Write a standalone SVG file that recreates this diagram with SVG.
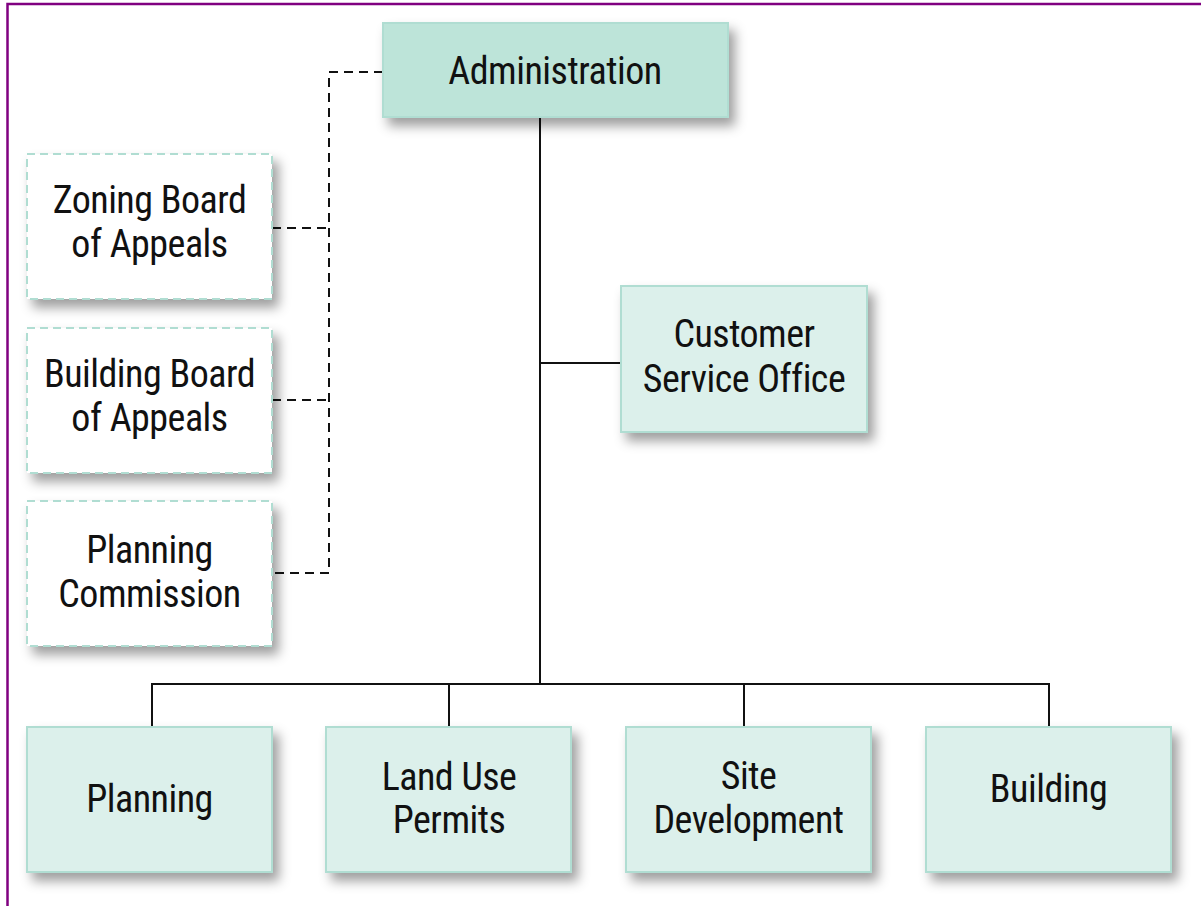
<svg xmlns="http://www.w3.org/2000/svg" width="1201" height="906" viewBox="0 0 1201 906">
<defs>
<filter id="sh" x="-20%" y="-20%" width="150%" height="160%">
<feDropShadow dx="6" dy="8" stdDeviation="6" flood-color="#000" flood-opacity="0.38"/>
</filter>
<style>
.t{font-family:"Liberation Sans Narrow","Roboto Condensed","Liberation Sans",sans-serif;font-size:38px;letter-spacing:-0.5px;fill:#111;text-anchor:middle}
.main{fill:#bde4d9;stroke:#b0ddd2;stroke-width:2}
.box{fill:#dcf0eb;stroke:#b0ddd2;stroke-width:2}
.dash{fill:#fff;stroke:#b0ddd2;stroke-width:2;stroke-dasharray:8 5}
.ln{fill:none;stroke:#111;stroke-width:2}
.dl{fill:none;stroke:#111;stroke-width:2;stroke-dasharray:9 6}
</style>
</defs>
<rect width="1201" height="906" fill="#fff"/>
<path d="M7.5 906 V4 H1201" fill="none" stroke="#800080" stroke-width="2.5"/>
<g id="connectors">
<path class="ln" d="M540 117 V684"/>
<path class="ln" d="M540 363 H621"/>
<path class="ln" d="M152 727 V684 H1049 V727"/>
<path class="ln" d="M449 684 V727"/>
<path class="ln" d="M744 684 V727"/>
<path class="dl" d="M383 72 H329 V573 H272"/>
<path class="dl" d="M272 228 H329"/>
<path class="dl" d="M272 400 H329"/>
</g>
<g id="administration">
<rect class="main" x="383" y="23" width="345" height="94" filter="url(#sh)"/>
<text class="t" x="555" y="84">Administration</text>
</g>
<g id="zoning-board">
<rect class="dash" x="27" y="154" width="245" height="145" filter="url(#sh)"/>
<text class="t" x="149.5" y="213">Zoning Board</text>
<text class="t" x="149.5" y="257">of Appeals</text>
</g>
<g id="building-board">
<rect class="dash" x="27" y="328" width="245" height="145" filter="url(#sh)"/>
<text class="t" x="149.5" y="387">Building Board</text>
<text class="t" x="149.5" y="431">of Appeals</text>
</g>
<g id="planning-commission">
<rect class="dash" x="27" y="501" width="245" height="145" filter="url(#sh)"/>
<text class="t" x="149.5" y="563">Planning</text>
<text class="t" x="149.5" y="607">Commission</text>
</g>
<g id="customer-service">
<rect class="box" x="621" y="286" width="246" height="146" filter="url(#sh)"/>
<text class="t" x="744" y="347">Customer</text>
<text class="t" x="744" y="392">Service Office</text>
</g>
<g id="planning">
<rect class="box" x="27" y="727" width="245" height="145" filter="url(#sh)"/>
<text class="t" x="149.5" y="812">Planning</text>
</g>
<g id="land-use">
<rect class="box" x="326" y="727" width="245" height="145" filter="url(#sh)"/>
<text class="t" x="449" y="790">Land Use</text>
<text class="t" x="449" y="833">Permits</text>
</g>
<g id="site-development">
<rect class="box" x="626" y="727" width="245" height="145" filter="url(#sh)"/>
<text class="t" x="748.5" y="789">Site</text>
<text class="t" x="748.5" y="833">Development</text>
</g>
<g id="building">
<rect class="box" x="926" y="727" width="245" height="145" filter="url(#sh)"/>
<text class="t" x="1048.5" y="802">Building</text>
</g>
</svg>
